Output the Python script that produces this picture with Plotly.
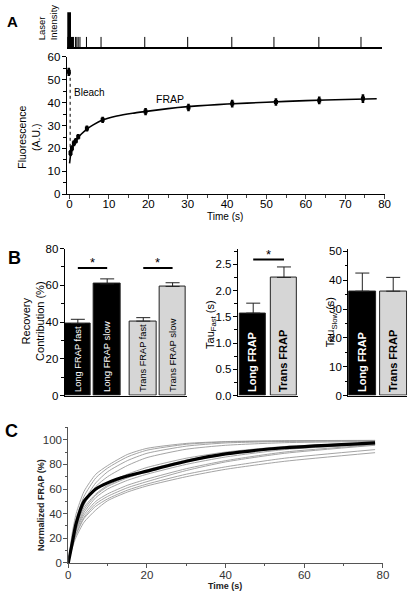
import plotly.graph_objects as go

# ---------------- Panel A data ----------------
laser_bleach_time = [0.0]
laser_bleach_level = [1.0]
laser_pulse_times = [-0.5, -0.25, 0.0, 0.25, 0.5, 0.75, 1.0, 1.5, 1.85, 2.2, 2.65,
                     4.3, 8.0, 19.1, 30.0, 41.2, 51.9, 63.3, 74.0]
laser_pulse_level = 0.3

prebleach_time = [-0.2]
prebleach_value = [53.5]
prebleach_err = [1.8]
bleach_line_time = 0.15
bleach_line_bottom = 16.5

frap_time = [0.25, 0.6, 1.1, 1.6, 2.2, 4.4, 8.4, 19.3, 30.2, 41.3, 52.4, 63.4, 74.5]
frap_value = [18.0, 20.1, 22.3, 23.4, 25.1, 28.7, 32.5, 36.1, 37.9, 39.6, 40.3, 41.0, 41.8]
frap_err = [1.3, 1.3, 1.3, 1.2, 1.2, 1.3, 1.4, 1.6, 1.6, 1.7, 1.6, 1.7, 1.9]

fit_time = [0, 0.25, 0.5, 1, 1.5, 2, 3, 4.5, 6, 8.5, 12, 16, 20, 25, 30, 35, 40, 50, 60, 70, 78]
fit_value = [13.5, 17.0, 19.3, 21.6, 23.2, 24.4, 26.3, 28.6, 30.3, 32.5, 34.2, 35.4,
             36.3, 37.4, 38.3, 38.9, 39.4, 40.2, 40.9, 41.4, 41.7]

# ---------------- Panel B data ----------------
contrib_labels = ["Long FRAP fast", "Long FRAP slow", "Trans FRAP fast", "Trans FRAP slow"]
contrib_values = [39.2, 60.8, 40.5, 59.4]
contrib_err = [2.3, 2.7, 1.9, 2.0]
contrib_sig_level = 69.4

tau_labels = ["Long FRAP", "Trans FRAP"]
tau_fast = [1.57, 2.25]
tau_fast_err = [0.19, 0.20]
tau_fast_sig_level = 2.59
tau_slow = [36.2, 36.2]
tau_slow_err = [6.3, 4.8]

# ---------------- Panel C data ----------------
c_time = [0, 1, 2, 4, 7, 10, 15, 20, 30, 40, 55, 78]
c_cells = [
    [0, 24, 40, 58, 72, 79, 88, 93, 97, 98.5, 99.2, 99.5],
    [0, 21, 36, 54, 69, 77, 86, 91.5, 96.3, 98.2, 99.0, 99.3],
    [0, 19, 33, 50, 65, 74, 83, 89, 94.8, 97.4, 98.6, 99.1],
    [0, 17, 30, 47, 62, 70, 79, 85.5, 92.3, 95.5, 97.6, 98.6],
    [0, 19, 33, 48, 59, 65, 72, 77.5, 85, 90, 94.5, 97.6],
    [0, 17, 30, 45, 56, 63, 70, 75.5, 83.5, 89, 94, 97.4],
    [0, 16, 28, 43, 55, 62, 69, 74, 82, 88, 93, 97],
    [0, 15, 27, 41, 53, 60, 67, 72, 80, 86, 92, 96.5],
    [0, 15, 26, 39, 50, 56, 63, 68, 76.5, 83, 90, 96],
    [0, 14, 24, 37, 48, 54, 61, 66, 75, 82, 89, 95.5],
    [0, 13, 23, 36, 46, 52, 59, 64, 72, 78, 85, 92],
    [0, 12, 21, 33, 43, 50.5, 57.5, 62.5, 70, 76, 82.5, 89.5],
]
c_mean = [0, 16, 32, 50, 60, 65, 70.5, 74.5, 82.5, 88.5, 93.5, 97.5]

# ---------------- helpers ----------------
W, H = 418, 601
FONT = "Liberation Sans, Arial, sans-serif"


def px(x):
    return x / W


def py(y):
    return 1 - y / H


fig = go.Figure()

# Laser intensity strip
fig.add_trace(go.Bar(x=laser_bleach_time, y=laser_bleach_level, width=1.0,
                     marker=dict(color="black", line=dict(width=0)),
                     xaxis="x", yaxis="y", showlegend=False))
lx, ly = [], []
for t in laser_pulse_times:
    lx += [t, t, None]
    ly += [0, laser_pulse_level, None]
fig.add_trace(go.Scatter(x=lx, y=ly, mode="lines", line=dict(color="black", width=1),
                         xaxis="x", yaxis="y", showlegend=False))

# Panel A main
fig.add_trace(go.Scatter(x=[bleach_line_time, bleach_line_time],
                         y=[prebleach_value[0], bleach_line_bottom], mode="lines",
                         line=dict(color="black", width=1, dash="dot"),
                         xaxis="x2", yaxis="y2", showlegend=False))
fig.add_trace(go.Scatter(x=fit_time, y=fit_value, mode="lines",
                         line=dict(color="black", width=1.6, shape="spline", smoothing=0.5),
                         xaxis="x2", yaxis="y2", showlegend=False))
fig.add_trace(go.Scatter(x=prebleach_time + frap_time, y=prebleach_value + frap_value,
                         mode="markers",
                         marker=dict(color="black", size=4, symbol="square"),
                         error_y=dict(type="data", array=prebleach_err + frap_err,
                                      color="black", thickness=2.6, width=0),
                         xaxis="x2", yaxis="y2", showlegend=False))

# Panel B1 – recovery contribution
b1_x = [i + (0.23 if i >= 2 else 0) for i in range(len(contrib_labels))]
b1_col = ["black", "black", "#d6d6d6", "#d6d6d6"]
b1_txt = ["white", "white", "black", "black"]
fig.add_trace(go.Bar(x=b1_x, y=contrib_values, width=0.9, text=contrib_labels,
                     textposition="inside", insidetextanchor="start", textangle=-90,
                     textfont=dict(color=b1_txt, size=9.5, family=FONT),
                     marker=dict(color=b1_col, line=dict(color="#222", width=1)),
                     error_y=dict(type="data", array=contrib_err,
                                  arrayminus=[0] * 4, color="#222", thickness=1, width=7),
                     xaxis="x3", yaxis="y3", showlegend=False))

# Panel B2 – tau fast
fig.add_trace(go.Bar(x=[0, 1], y=tau_fast, width=0.85, text=tau_labels,
                     textposition="inside", insidetextanchor="start", textangle=-90,
                     textfont=dict(color=["white", "black"], size=11, family=FONT),
                     texttemplate="<b>%{text}</b>",
                     marker=dict(color=["black", "#d6d6d6"], line=dict(color="#222", width=1)),
                     error_y=dict(type="data", array=tau_fast_err, arrayminus=[0, 0],
                                  color="#222", thickness=1, width=7),
                     xaxis="x4", yaxis="y4", showlegend=False))

# Panel B3 – tau slow
fig.add_trace(go.Bar(x=[0, 1], y=tau_slow, width=0.87, text=tau_labels,
                     textposition="inside", insidetextanchor="start", textangle=-90,
                     textfont=dict(color=["white", "black"], size=11, family=FONT),
                     texttemplate="<b>%{text}</b>",
                     marker=dict(color=["black", "#d6d6d6"], line=dict(color="#222", width=1)),
                     error_y=dict(type="data", array=tau_slow_err, arrayminus=[0, 0],
                                  color="#222", thickness=1, width=7),
                     xaxis="x5", yaxis="y5", showlegend=False))

# Panel C
for cell in c_cells:
    fig.add_trace(go.Scatter(x=c_time, y=cell, mode="lines",
                             line=dict(color="#9a9a9a", width=0.9, shape="spline", smoothing=0.6),
                             xaxis="x6", yaxis="y6", showlegend=False))
fig.add_trace(go.Scatter(x=c_time, y=c_mean, mode="lines",
                         line=dict(color="black", width=3.2, shape="spline", smoothing=0.6),
                         xaxis="x6", yaxis="y6", showlegend=False))

# ---------------- shapes (significance lines) ----------------
shapes = [
    dict(type="line", xref="x3", yref="y3", x0=b1_x[0], x1=b1_x[1],
         y0=contrib_sig_level, y1=contrib_sig_level, line=dict(color="black", width=2)),
    dict(type="line", xref="x3", yref="y3", x0=b1_x[2], x1=b1_x[3],
         y0=contrib_sig_level, y1=contrib_sig_level, line=dict(color="black", width=2)),
    dict(type="line", xref="x4", yref="y4", x0=0, x1=1,
         y0=tau_fast_sig_level, y1=tau_fast_sig_level, line=dict(color="black", width=2)),
]

tickfont = dict(family=FONT, size=11.5, color="black")


def ann(text, x, y, size, angle=0, color="black", **kw):
    d = dict(text=text, x=px(x), y=py(y), xref="paper", yref="paper",
             xanchor="center", yanchor="middle", textangle=angle, showarrow=False,
             font=dict(family=FONT, size=size, color=color))
    d.update(kw)
    return d


annotations = [
    ann("<b>A</b>", 10, 16, 15),
    ann("<b>B</b>", 12, 257, 18),
    ann("<b>C</b>", 9, 434, 18),
    ann("Laser<br>Intensity", 45, 37, 9.5, angle=-90, yanchor="bottom", align="left"),
    ann("Fluorescence<br>(A.U.)", 27, 134, 10.5, angle=-90),
    ann("Time (s)", 227, 215, 10),
    dict(text="Bleach", x=0.7, y=44.6, xref="x2", yref="y2", xanchor="left", yanchor="middle",
         showarrow=False, font=dict(family=FONT, size=10)),
    dict(text="FRAP", x=25.6, y=41.6, xref="x2", yref="y2", xanchor="center", yanchor="middle",
         showarrow=False, font=dict(family=FONT, size=10.5)),
    ann("Recovery<br>Contribution (%)", 30, 322, 11, angle=-90),
    ann("Tau<sub>Fast</sub> (s)", 212, 325, 11, angle=-90),
    ann("Tau<sub>Slow</sub> (s)", 335, 323, 11, angle=-90),
    dict(text="*", x=(b1_x[0] + b1_x[1]) / 2, y=contrib_sig_level, xref="x3", yref="y3",
         xanchor="center", yanchor="bottom", yshift=-4, showarrow=False,
         font=dict(family=FONT, size=13)),
    dict(text="*", x=(b1_x[2] + b1_x[3]) / 2, y=contrib_sig_level, xref="x3", yref="y3",
         xanchor="center", yanchor="bottom", yshift=-4, showarrow=False,
         font=dict(family=FONT, size=13)),
    dict(text="*", x=0.5, y=tau_fast_sig_level, xref="x4", yref="y4",
         xanchor="center", yanchor="bottom", yshift=-4, showarrow=False,
         font=dict(family=FONT, size=13)),
    ann("<b>Normalized FRAP (%)</b>", 39, 509, 9, angle=-90, color="#222"),
    ann("<b>Time (s)</b>", 227, 592, 9, color="#222"),
]


def yax(domain, rng, dtick, minor_dtick, fmt=None, color="black", fontcolor="black"):
    d = dict(domain=domain, range=rng, showline=True, linecolor=color, linewidth=1,
             ticks="outside", ticklen=4, tickcolor=color, dtick=dtick, tick0=0,
             showgrid=False, zeroline=False, ticklabelstandoff=-1,
             tickfont=dict(family=FONT, size=11.5, color=fontcolor),
             minor=dict(ticks="outside", ticklen=2.5, dtick=minor_dtick, tickcolor=color,
                        showgrid=False))
    if fmt:
        d["tickformat"] = fmt
    return d


layout = dict(
    width=W, height=H, margin=dict(l=0, r=0, t=0, b=0),
    paper_bgcolor="white", plot_bgcolor="rgba(0,0,0,0)",
    font=dict(family=FONT, color="black"),
    showlegend=False, bargap=0,
    shapes=shapes, annotations=annotations,
    # laser strip
    xaxis=dict(domain=[px(65.7), px(387)], range=[-0.57, 79.25], showline=True,
               linecolor="black", linewidth=2.4, showticklabels=False, ticks="",
               showgrid=False, zeroline=False, anchor="y"),
    yaxis=dict(domain=[py(42.3), py(6.5)], range=[0, 1], visible=False, anchor="x"),
    # A main
    xaxis2=dict(domain=[px(64), px(390)], range=[-1, 80], showline=True, linecolor="black",
                linewidth=1, ticks="outside", ticklen=3.5, dtick=10, tick0=0, showgrid=False,
                zeroline=False, tickfont=tickfont, anchor="y2", ticklabelstandoff=-4,
                minor=dict(ticks="outside", ticklen=2.5, dtick=5, showgrid=False)),
    yaxis2=dict(yax([py(192), py(52)], [0, 60], 10, 5), anchor="free", position=px(64)),
    # B1
    xaxis3=dict(domain=[px(63), px(188)], range=[-0.45, 3.72], showline=True,
                linecolor="black", linewidth=1, showticklabels=False, ticks="",
                showgrid=False, zeroline=False, anchor="y3"),
    yaxis3=dict(yax([py(397.5), py(247.5)], [0, 80], 20, 10), anchor="x3"),
    # B2
    xaxis4=dict(domain=[px(240), px(301)], range=[-0.5, 1.44], showline=True,
                linecolor="black", linewidth=1, showticklabels=False, ticks="",
                showgrid=False, zeroline=False, anchor="y4"),
    yaxis4=dict(yax([py(397.5), py(247.5)], [0, 2.8], 0.5, 0.25, fmt=".1f"), anchor="x4"),
    # B3
    xaxis5=dict(domain=[px(352.7), px(413)], range=[-0.46, 1.45], showline=True,
                linecolor="black", linewidth=1, showticklabels=False, ticks="",
                showgrid=False, zeroline=False, anchor="y5"),
    yaxis5=dict(yax([py(397.5), py(247.5)], [0, 51], 10, 5), anchor="x5"),
    # C
    xaxis6=dict(domain=[px(66.7), px(388.3)], range=[0, 80], showline=True,
                linecolor="#555", linewidth=1, ticks="outside", ticklen=4, tickcolor="#555",
                dtick=20, tick0=0, showgrid=False, zeroline=False, ticklabelstandoff=-3,
                tickfont=dict(family=FONT, size=11.5, color="#333"), anchor="y6",
                minor=dict(ticks="outside", ticklen=2.5, dtick=10, tickcolor="#555",
                           showgrid=False)),
    yaxis6=dict(yax([py(568.3), py(430)], [0, 110], 20, 10, color="#555", fontcolor="#333"),
                anchor="x6"),
)

fig.update_layout(**layout)
fig.write_html("out.html", config={"displayModeBar": False},
               post_script="document.body.style.margin='0';document.body.style.overflow='hidden';")
